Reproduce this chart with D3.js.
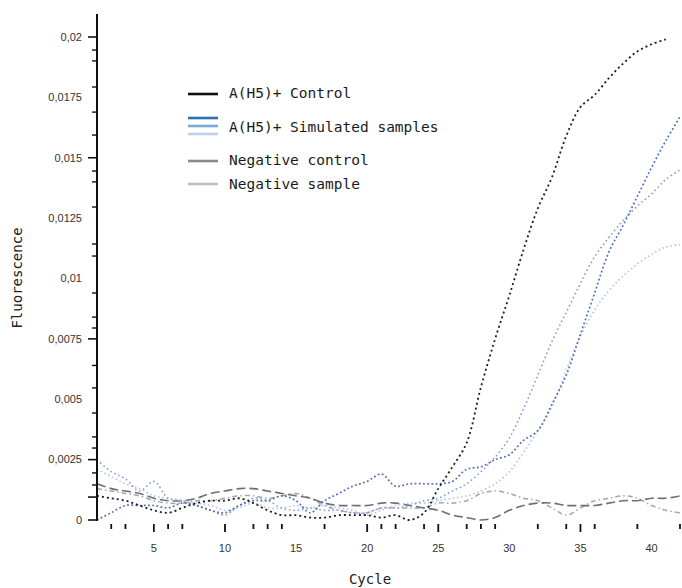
<!DOCTYPE html>
<html lang="en">
  <head>
    <meta charset="UTF-8" />
    <title>Fluorescence vs Cycle</title>
    <script src="https://d3js.org/d3.v7.min.js"></script>
    <style>
      body { margin: 0; background: #fff; }
    </style>
  </head>
  <body>
    <svg width="682" height="588"></svg>

    <script>
      // cycles
      const cycles = [1, 2, 3, 4, 5, 6, 7, 8, 9, 10, 11, 12, 13, 14, 15, 16, 17, 18, 19, 20, 21,
        22, 23, 24, 25, 26, 27, 28, 29, 30, 31, 32, 33, 34, 35, 36, 37, 38, 39, 40, 41, 42];

      // A(H5)+ control (ends at cycle 41)
      const control = [0.0010, 0.0009, 0.0008, 0.0006, 0.0004, 0.0003, 0.0005, 0.0007, 0.0008, 0.0008,
        0.0009, 0.0007, 0.0004, 0.0002, 0.0002, 0.0001, 0.0001, 0.0002, 0.0002, 0.0002, 0.0001,
        0.0002, 0.0000, 0.0003, 0.0013, 0.0022, 0.0032, 0.0055, 0.0075, 0.0093, 0.0112, 0.0129,
        0.0142, 0.0159, 0.0171, 0.0176, 0.0183, 0.0189, 0.0194, 0.0197, 0.0199];

      // A(H5)+ simulated samples
      const sample1 = [0.0000, 0.0003, 0.0006, 0.0006, 0.0006, 0.0005, 0.0007, 0.0006, 0.0004, 0.0003,
        0.0006, 0.0008, 0.0008, 0.0010, 0.0008, 0.0003, 0.0008, 0.0011, 0.0014, 0.0016, 0.0019,
        0.0014, 0.0015, 0.0015, 0.0015, 0.0016, 0.0021, 0.0022, 0.0025, 0.0027, 0.0033, 0.0037,
        0.0048, 0.0060, 0.0077, 0.0094, 0.0111, 0.0122, 0.0134, 0.0146, 0.0157, 0.0167];
      const sample2 = [0.0025, 0.0020, 0.0017, 0.0012, 0.0016, 0.0009, 0.0008, 0.0006, 0.0004, 0.0002,
        0.0006, 0.0009, 0.0008, 0.0005, 0.0004, 0.0005, 0.0004, 0.0004, 0.0003, 0.0003, 0.0005,
        0.0005, 0.0006, 0.0008, 0.0009, 0.0012, 0.0015, 0.0020, 0.0026, 0.0034, 0.0046, 0.0060,
        0.0074, 0.0086, 0.0098, 0.0109, 0.0117, 0.0124, 0.0130, 0.0135, 0.0141, 0.0145];
      const sample3 = [0.0021, 0.0018, 0.0015, 0.0013, 0.0010, 0.0009, 0.0008, 0.0007, 0.0006, 0.0004,
        0.0005, 0.0007, 0.0005, 0.0005, 0.0006, 0.0005, 0.0006, 0.0005, 0.0004, 0.0002, 0.0004,
        0.0006, 0.0007, 0.0007, 0.0008, 0.0009, 0.0010, 0.0012, 0.0015, 0.0020, 0.0028, 0.0037,
        0.0047, 0.0062, 0.0076, 0.0087, 0.0095, 0.0101, 0.0106, 0.0110, 0.0113, 0.0114];

      // negatives
      const negControl = [0.0015, 0.0013, 0.0012, 0.0011, 0.0009, 0.0008, 0.0008, 0.0009, 0.0011, 0.0012,
        0.0013, 0.0013, 0.0012, 0.0011, 0.0010, 0.0009, 0.0007, 0.0006, 0.0006, 0.0006, 0.0007,
        0.0007, 0.0006, 0.0005, 0.0004, 0.0002, 0.0001, 0.0000, 0.0001, 0.0004, 0.0006, 0.0007,
        0.0007, 0.0006, 0.0006, 0.0006, 0.0007, 0.0008, 0.0008, 0.0009, 0.0009, 0.0010];
      const negSample = [0.0013, 0.0012, 0.0011, 0.0010, 0.0008, 0.0007, 0.0007, 0.0008, 0.0008, 0.0009,
        0.0010, 0.0010, 0.0009, 0.0010, 0.0011, 0.0009, 0.0006, 0.0004, 0.0003, 0.0003, 0.0005,
        0.0005, 0.0005, 0.0005, 0.0007, 0.0007, 0.0008, 0.0011, 0.0012, 0.0011, 0.0009, 0.0008,
        0.0005, 0.0002, 0.0005, 0.0008, 0.0009, 0.0010, 0.0009, 0.0006, 0.0004, 0.0003];

      // axis ticks
      const yLabels = [0, 0.0025, 0.005, 0.0075, 0.01, 0.0125, 0.015, 0.0175, 0.02];
      const yMajorTicks = [0, 0.00095, 0.0025, 0.0075, 0.015, 0.02];
      const yMinorTicks = [0.00145, 0.00195, 0.00298, 0.00344, 0.00443, 0.00547, 0.0064, 0.00795,
        0.0084, 0.0094, 0.01093, 0.01143, 0.01296, 0.014, 0.01445, 0.01594, 0.01689, 0.01793,
        0.01901, 0.01946];
      const xLabels = [5, 10, 15, 20, 25, 30, 35, 40];
      const xLongTicks = [5, 10, 20, 25, 35];
      const xShortTicks = [2, 3, 6, 7, 12, 13, 14, 17, 21, 22, 24, 27, 28, 29, 32, 34, 36, 39, 42];

      const series = [
        { name: "negSample", values: negSample, color: "#a6a6a6", width: 1.5, dash: "5,3,1.5,3" },
        { name: "negControl", values: negControl, color: "#6f6f6f", width: 1.6, dash: "9,4" },
        { name: "sample3", values: sample3, color: "#b5c4ec", width: 1.6, dash: "1.6,2.6" },
        { name: "sample2", values: sample2, color: "#869ed8", width: 1.6, dash: "1.6,2.8" },
        { name: "sample1", values: sample1, color: "#4f6fb8", width: 1.7, dash: "1.8,2.4" },
        { name: "control", values: control, color: "#1c1c1c", width: 1.8, dash: "2,3" },
      ];

      const legend = [
        { label: "A(H5)+ Control", y: 93, lines: [{ y: 94, color: "#111111" }] },
        { label: "A(H5)+ Simulated samples", y: 127, lines: [
          { y: 118, color: "#2e6fb2" }, { y: 126, color: "#7ea8d8" }, { y: 134, color: "#bcd2ea" }] },
        { label: "Negative control", y: 160, lines: [{ y: 161, color: "#8a8a8a" }] },
        { label: "Negative sample", y: 184, lines: [{ y: 184, color: "#bdbdbd" }] },
      ];

      const svg = d3.select("svg");

      const x = d3.scaleLinear().domain([1, 42]).range([97, 680]);
      const y = d3.scaleLinear().domain([0, 0.02]).range([520, 37]);

      const fmt = (d) => (d === 0 ? "0" : String(d).replace(".", ","));

      // lines
      const line = d3
        .line()
        .x((d, i) => x(cycles[i]))
        .y((d) => y(d))
        .curve(d3.curveCatmullRom.alpha(0.5));

      svg
        .append("g")
        .selectAll("path")
        .data(series)
        .join("path")
        .attr("d", (s) => line(s.values))
        .attr("fill", "none")
        .attr("stroke", (s) => s.color)
        .attr("stroke-width", (s) => s.width)
        .attr("stroke-dasharray", (s) => s.dash);

      // y axis
      const ya = svg.append("g").attr("stroke", "#111");
      ya.append("line")
        .attr("x1", 97).attr("x2", 97)
        .attr("y1", y(0) + 1).attr("y2", y(0.02095))
        .attr("stroke-width", 2);
      ya.selectAll("line.maj")
        .data(yMajorTicks)
        .join("line")
        .attr("class", "maj")
        .attr("x1", 88).attr("x2", 97)
        .attr("y1", (d) => y(d)).attr("y2", (d) => y(d))
        .attr("stroke-width", 1.6);
      ya.selectAll("line.min")
        .data(yMinorTicks)
        .join("line")
        .attr("class", "min")
        .attr("x1", 92).attr("x2", 97)
        .attr("y1", (d) => y(d)).attr("y2", (d) => y(d))
        .attr("stroke-width", 1.4);

      svg
        .append("g")
        .selectAll("text")
        .data(yLabels)
        .join("text")
        .attr("x", 82)
        .attr("y", (d) => y(d))
        .attr("dy", "0.35em")
        .attr("text-anchor", "end")
        .attr("font-family", "Liberation Sans, Arial, sans-serif")
        .attr("font-size", 11)
        .attr("fill", "#333")
        .text(fmt);

      // x ticks (no axis line)
      const xa = svg.append("g").attr("stroke", "#111").attr("stroke-width", 1.8);
      xa.selectAll("line.long")
        .data(xLongTicks)
        .join("line")
        .attr("class", "long")
        .attr("x1", (d) => x(d)).attr("x2", (d) => x(d))
        .attr("y1", 524).attr("y2", 532);
      xa.selectAll("line.short")
        .data(xShortTicks)
        .join("line")
        .attr("class", "short")
        .attr("x1", (d) => x(d)).attr("x2", (d) => x(d))
        .attr("y1", 524).attr("y2", 529);

      svg
        .append("g")
        .selectAll("text")
        .data(xLabels)
        .join("text")
        .attr("x", (d) => x(d))
        .attr("y", 552)
        .attr("text-anchor", "middle")
        .attr("font-family", "Liberation Sans, Arial, sans-serif")
        .attr("font-size", 11)
        .attr("fill", "#333")
        .text((d) => d);

      // axis titles
      svg.append("text")
        .attr("transform", "translate(22, 278) rotate(-90)")
        .attr("text-anchor", "middle")
        .attr("font-family", "DejaVu Sans Mono, monospace")
        .attr("font-size", 14)
        .attr("fill", "#222")
        .text("Fluorescence");

      svg.append("text")
        .attr("x", 370)
        .attr("y", 584)
        .attr("text-anchor", "middle")
        .attr("font-family", "DejaVu Sans Mono, monospace")
        .attr("font-size", 14)
        .attr("fill", "#222")
        .text("Cycle");

      // legend
      const lg = svg.append("g");
      legend.forEach((item) => {
        item.lines.forEach((l) => {
          lg.append("line")
            .attr("x1", 188).attr("x2", 218)
            .attr("y1", l.y).attr("y2", l.y)
            .attr("stroke", l.color)
            .attr("stroke-width", 2.6);
        });
        lg.append("text")
          .attr("x", 229)
          .attr("y", item.y)
          .attr("dy", "0.35em")
          .attr("font-family", "DejaVu Sans Mono, monospace")
          .attr("font-size", 14.5)
          .attr("fill", "#1a1a1a")
          .text(item.label);
      });
    </script>
  </body>
</html>
